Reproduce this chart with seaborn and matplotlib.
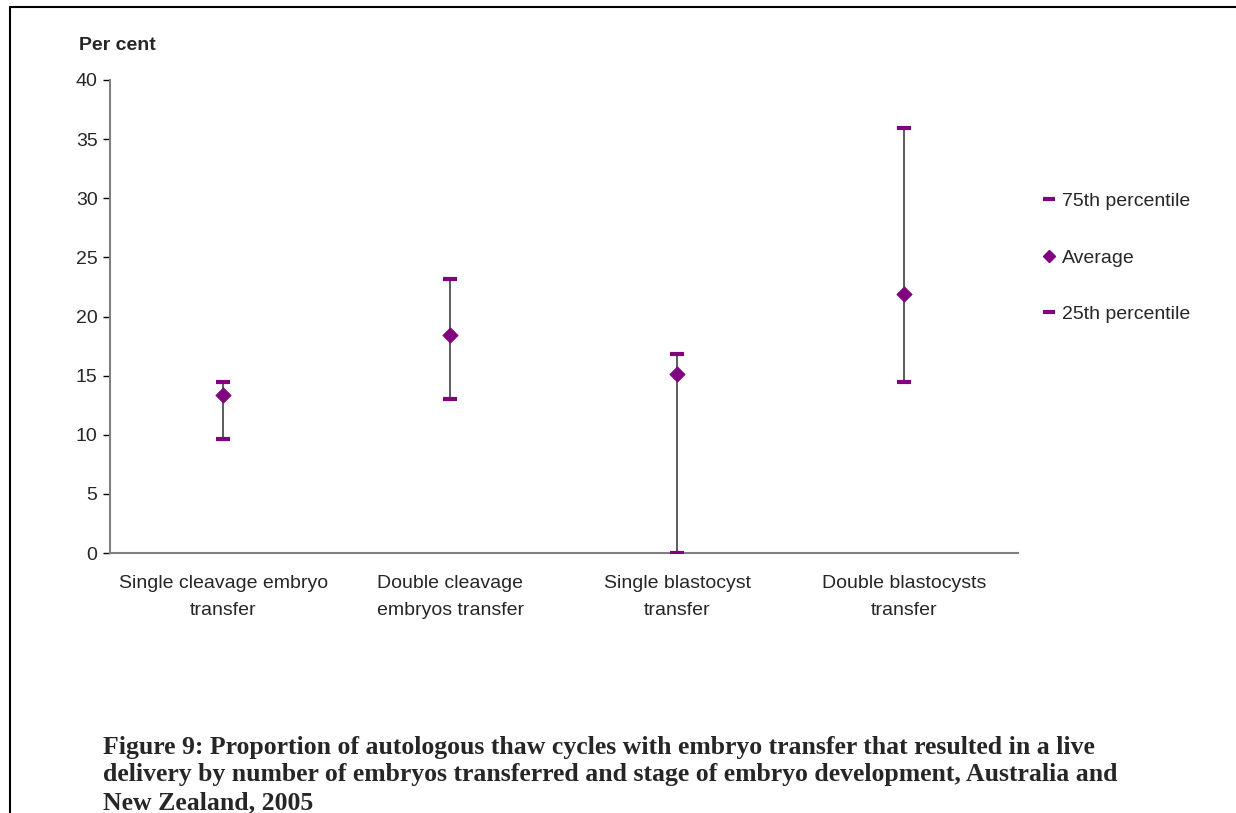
import numpy as np
import pandas as pd
import matplotlib
matplotlib.use('Agg')
import matplotlib.pyplot as plt
import seaborn as sns
from matplotlib.lines import Line2D

categories = ['Single cleavage embryo\ntransfer', 'Double cleavage\nembryos transfer',
              'Single blastocyst\ntransfer', 'Double blastocysts\ntransfer']
p75 = [14.5, 23.2, 16.8, 35.9]
average = [13.4, 18.4, 15.1, 21.9]
p25 = [9.6, 13.0, 0.0, 14.5]
y_ticks = [0, 5, 10, 15, 20, 25, 30, 35, 40]

caption = ('Figure 9: Proportion of autologous thaw cycles with embryo transfer that resulted in a live\n'
           'delivery by number of embryos transferred and stage of embryo development, Australia and\n'
           'New Zealand, 2005')

sns.set_style('white')
plt.rcParams['font.family'] = ['Liberation Sans', 'DejaVu Sans']

purple = '#800080'
axis_grey = '#808080'

df = pd.DataFrame({'x': np.arange(len(categories)), 'p75': p75, 'avg': average, 'p25': p25})

fig = plt.figure(figsize=(12.36, 8.13), dpi=100)
ax = fig.add_axes([0.089, 0.3198, 0.7346, 0.5818])

# whiskers between the percentiles
ax.vlines(df['x'], df['p25'], df['p75'], color='#404040', linewidth=1.2, zorder=1)

sns.scatterplot(data=df, x='x', y='p75', marker='_', s=100, linewidth=3,
                color=purple, ax=ax, zorder=3, legend=False)
sns.scatterplot(data=df, x='x', y='avg', marker='D', s=60, color=purple,
                edgecolor=purple, ax=ax, zorder=4, legend=False)
sns.scatterplot(data=df, x='x', y='p25', marker='_', s=100, linewidth=3,
                color=purple, ax=ax, zorder=3, legend=False)

ax.set_xlim(-0.5, len(categories) - 0.5)
ax.set_ylim(0, 40)
ax.set_yticks(y_ticks)
ax.set_yticklabels([str(t) for t in y_ticks], fontsize=14)
ax.set_xticks(df['x'])
ax.set_xticklabels(categories, fontsize=14, linespacing=1.75)
ax.set_xticks(np.arange(len(categories)) + 0.5, minor=True)
ax.tick_params(axis='x', which='major', length=0, pad=16)
ax.tick_params(axis='x', which='minor', length=5, width=1, color='black', direction='out')
ax.tick_params(axis='y', length=5, width=1, color='black', direction='out', pad=4, left=True)
ax.set_xlabel('')
ax.set_ylabel('')

for side in ['top', 'right']:
    ax.spines[side].set_visible(False)
for side in ['left', 'bottom']:
    ax.spines[side].set_color(axis_grey)
    ax.spines[side].set_linewidth(1.5)

fig.text(79 / 1236, 1 - 46 / 813, 'Per cent', fontsize=14, fontweight='bold', va='center', ha='left')

handles = [
    Line2D([], [], linestyle='none', marker='_', markersize=9, markeredgewidth=3, color=purple),
    Line2D([], [], linestyle='none', marker='D', markersize=6, color=purple),
    Line2D([], [], linestyle='none', marker='_', markersize=9, markeredgewidth=3, color=purple),
]
fig.legend(handles, ['75th percentile', 'Average', '25th percentile'],
           loc='upper left', bbox_to_anchor=(1026 / 1236, 1 - 175 / 813),
           frameon=False, fontsize=14, labelspacing=2.0, handlelength=0.6,
           handletextpad=0.35)

fig.text(103 / 1236, 1 - 736 / 813, caption, fontsize=18.5, fontweight='bold',
         family=['Liberation Serif', 'DejaVu Serif'], va='top', ha='left', linespacing=1.25)

# page border on the left and top
fig.add_artist(Line2D([10 / 1236, 10 / 1236], [0, 1 - 7 / 813], transform=fig.transFigure,
                      color='black', linewidth=1.5))
fig.add_artist(Line2D([10 / 1236, 1], [1 - 7 / 813, 1 - 7 / 813], transform=fig.transFigure,
                      color='black', linewidth=1.5))

fig.savefig('out.png', dpi=100)
